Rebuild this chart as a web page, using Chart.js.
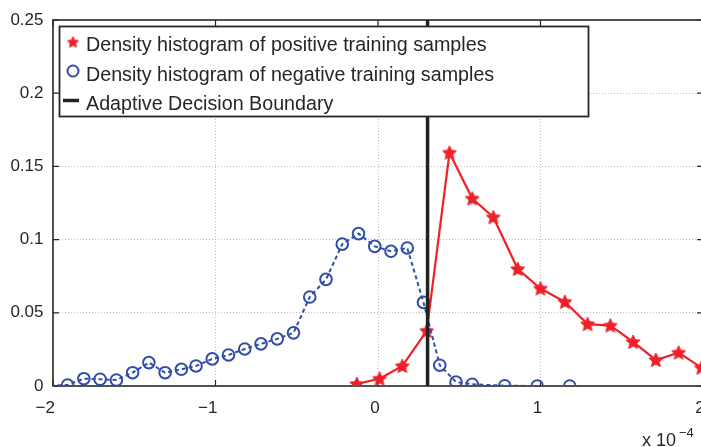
<!DOCTYPE html>
<html><head><meta charset="utf-8">
<script src="https://cdn.jsdelivr.net/npm/chart.js@4"></script>
<style>
html,body{margin:0;padding:0;overflow:hidden;background:#fff;width:701px;height:447px}
canvas{display:block}
</style></head><body>
<canvas id="c" width="720" height="447" style="width:720px;height:447px"></canvas>
<script>
// ---- data (x in units of 1e-4) ----
const posX = [-0.13, 0.01, 0.15, 0.30, 0.44, 0.58, 0.71, 0.86, 1.00, 1.15, 1.29, 1.43, 1.57, 1.71, 1.85, 1.99];
const posY = [0.0014, 0.005, 0.0137, 0.0377, 0.1594, 0.1281, 0.1153, 0.0799, 0.0666, 0.0575, 0.0423, 0.0413, 0.0301, 0.0178, 0.0228, 0.0125];
const negX = [-2.10, -1.91, -1.81, -1.71, -1.61, -1.51, -1.41, -1.31, -1.21, -1.12, -1.02, -0.92, -0.82, -0.72, -0.62, -0.52, -0.42, -0.32, -0.22, -0.12, -0.02, 0.08, 0.18, 0.28, 0.38, 0.48, 0.58, 0.78, 0.98, 1.18, 2.20];
const negY = [0, 0.0007, 0.005, 0.0046, 0.0041, 0.0091, 0.016, 0.0091, 0.0114, 0.0137, 0.0185, 0.0212, 0.0253, 0.0288, 0.0322, 0.0363, 0.0608, 0.0728, 0.0969, 0.1041, 0.0954, 0.092, 0.0943, 0.0571, 0.0142, 0.0027, 0.0012, 0.0002, 0, 0, 0];
const boundaryX = [0.305, 0.305];
const boundaryY = [0, 0.25];
const xTicks = [-2, -1, 0, 1, 2];
const yTicks = [0, 0.05, 0.1, 0.15, 0.2, 0.25];
const legendLabels = ['Density histogram of positive training samples', 'Density histogram of negative training samples', 'Adaptive Decision Boundary'];
const xExponentBase = 'x 10';
const xExponent = '\u22124';

const RED = '#f0202a', BLUE = '#2f4ea6', BLACK = '#222222', AXIS = '#262626';
const FONT = "'Liberation Sans', Arial, Helvetica, sans-serif";

function makeStar(size, color) {
  const c = document.createElement('canvas'); c.width = size; c.height = size;
  const g = c.getContext('2d');
  const cx = size / 2, cy = size / 2 + 0.5, R = size / 2 - 0.6, r = R * 0.48;
  g.beginPath();
  for (let i = 0; i < 10; i++) {
    const a = -Math.PI / 2 + i * Math.PI / 5, rr = i % 2 ? r : R;
    g.lineTo(cx + rr * Math.cos(a), cy + rr * Math.sin(a));
  }
  g.closePath(); g.fillStyle = color; g.fill();
  g.strokeStyle = color; g.lineWidth = 1; g.lineJoin = 'round'; g.stroke();
  return c;
}
const star = makeStar(16, RED);
const starLegend = makeStar(13, RED);

const toPts = (xs, ys) => xs.map((x, i) => ({x: x, y: ys[i]}));
const fmtX = v => v < 0 ? '\u2212' + Math.abs(v) + '\u2007' : String(v);
const fmtY = v => String(+v.toFixed(2));

const decor = {
  id: 'decor',
  beforeDatasetsDraw(chart) {
    const {ctx, chartArea: a, scales: {x, y}} = chart;
    ctx.save();
    ctx.strokeStyle = AXIS; ctx.lineWidth = 1.6;
    ctx.strokeRect(a.left, a.top, a.right - a.left, a.bottom - a.top);
    ctx.lineWidth = 1.2;
    ctx.beginPath();
    xTicks.forEach(v => {
      const px = x.getPixelForValue(v);
      ctx.moveTo(px, a.bottom); ctx.lineTo(px, a.bottom - 6);
      ctx.moveTo(px, a.top); ctx.lineTo(px, a.top + 6);
    });
    yTicks.forEach(v => {
      const py = y.getPixelForValue(v);
      ctx.moveTo(a.left, py); ctx.lineTo(a.left + 6, py);
      ctx.moveTo(a.right, py); ctx.lineTo(a.right - 6, py);
    });
    ctx.stroke();
    ctx.restore();
  },
  afterDatasetsDraw(chart) {
    const {ctx} = chart;
    ctx.save();
    const lx = 59, ly = 26, lw = 530, lh = 91;
    ctx.fillStyle = '#fff'; ctx.fillRect(lx, ly, lw, lh);
    ctx.strokeStyle = AXIS; ctx.lineWidth = 1.8;
    ctx.strokeRect(lx + 0.5, ly + 0.5, lw - 1, lh - 1);
    ctx.drawImage(starLegend, 73 - starLegend.width / 2, 42 - starLegend.height / 2);
    ctx.beginPath(); ctx.arc(73, 71, 5.5, 0, Math.PI * 2);
    ctx.strokeStyle = BLUE; ctx.lineWidth = 2; ctx.stroke();
    ctx.beginPath(); ctx.moveTo(63, 100.5); ctx.lineTo(79, 100.5);
    ctx.strokeStyle = BLACK; ctx.lineWidth = 3.5; ctx.stroke();
    ctx.fillStyle = AXIS; ctx.font = '19.7px ' + FONT; ctx.textBaseline = 'alphabetic'; ctx.textAlign = 'left';
    ctx.fillText(legendLabels[0], 86, 51);
    ctx.fillText(legendLabels[1], 86, 80.5);
    ctx.fillText(legendLabels[2], 86, 109.5);
    ctx.font = '18px ' + FONT;
    ctx.fillText(xExponentBase, 642, 446);
    ctx.font = '13px ' + FONT;
    ctx.fillText(xExponent, 679, 437);
    ctx.restore();
  }
};

new Chart(document.getElementById('c'), {
  type: 'scatter',
  data: {
    datasets: [
      {label: legendLabels[2], data: toPts(boundaryX, boundaryY), showLine: true, borderColor: BLACK, borderWidth: 3.5, pointRadius: 0, order: 1},
      {label: legendLabels[1], data: toPts(negX, negY), showLine: true, borderColor: BLUE, borderWidth: 2, borderDash: [4, 3],
        pointStyle: 'circle', pointRadius: 5.8, pointBorderWidth: 2, pointBorderColor: BLUE, pointBackgroundColor: 'rgba(0,0,0,0)', order: 2},
      {label: legendLabels[0], data: toPts(posX, posY), showLine: true, borderColor: RED, borderWidth: 2.2,
        pointStyle: star, pointRadius: 8, order: 3}
    ]
  },
  options: {
    responsive: false, animation: false, devicePixelRatio: 1,
    layout: {padding: {top: 20, right: 17, left: 0, bottom: 0}},
    plugins: {legend: {display: false}, tooltip: {enabled: false}},
    scales: {
      x: {
        type: 'linear', min: -2, max: 2,
        afterFit(s) { s.height = 61; },
        afterBuildTicks(s) { s.ticks = xTicks.map(v => ({value: v})); },
        ticks: {font: {family: FONT, size: 17}, color: AXIS, padding: 12, labelOffset: -3, maxRotation: 0, autoSkip: false, callback: v => fmtX(v)},
        grid: {drawTicks: false, lineWidth: 1, color: c => (c.tick && (c.tick.value === -2 || c.tick.value === 2)) ? 'rgba(0,0,0,0)' : '#bdbdbd'},
        border: {display: false, dash: [1, 2]}
      },
      y: {
        type: 'linear', min: 0, max: 0.25,
        afterFit(s) { s.width = 53; },
        afterBuildTicks(s) { s.ticks = yTicks.map(v => ({value: v})); },
        ticks: {font: {family: FONT, size: 17}, color: AXIS, padding: 9.5, autoSkip: false, callback: v => fmtY(v)},
        grid: {drawTicks: false, lineWidth: 1, color: c => (c.tick && (c.tick.value === 0 || Math.abs(c.tick.value - 0.25) < 1e-9)) ? 'rgba(0,0,0,0)' : '#bdbdbd'},
        border: {display: false, dash: [1, 2]}
      }
    }
  },
  plugins: [decor]
});
</script>
</body></html>
